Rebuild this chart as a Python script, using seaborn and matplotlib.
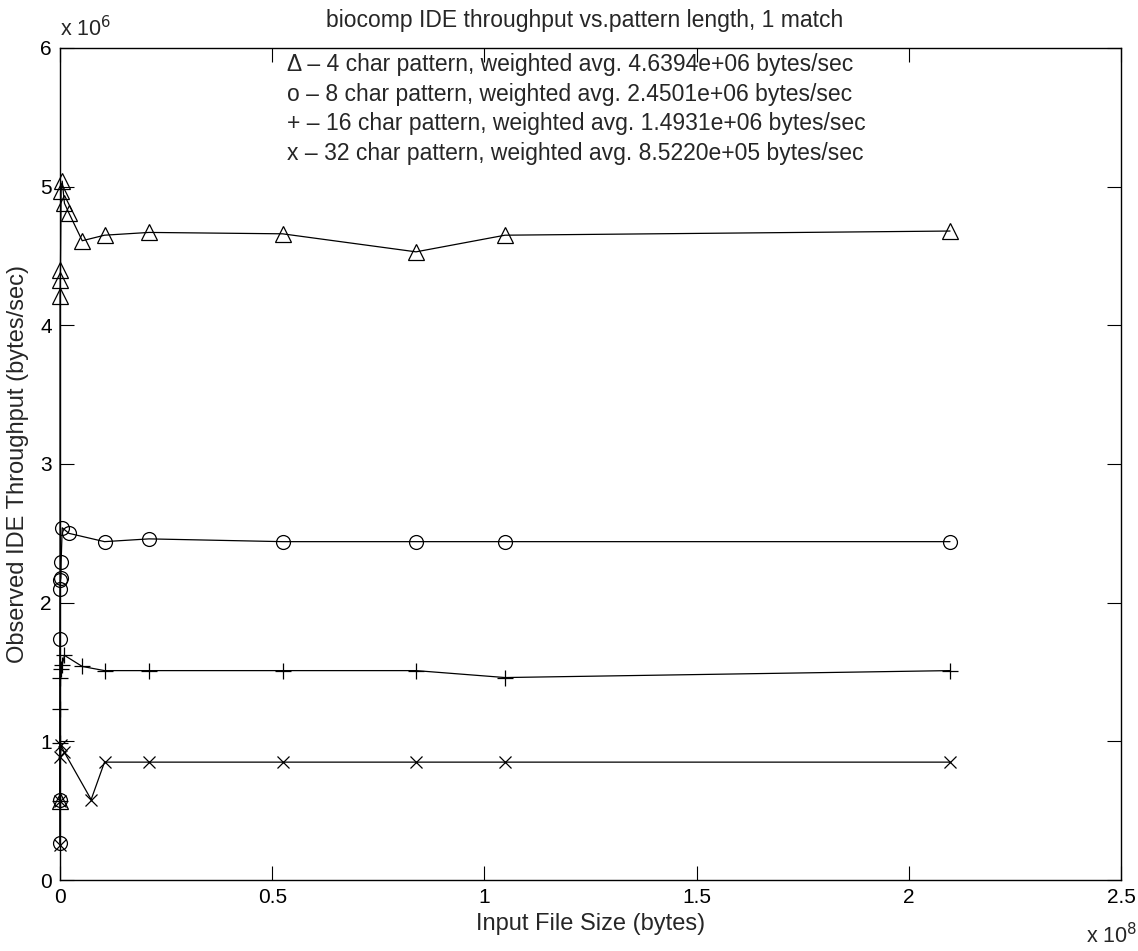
import numpy as np
import pandas as pd
import matplotlib
matplotlib.use("Agg")
import matplotlib.pyplot as plt
from matplotlib.ticker import FuncFormatter, MultipleLocator
import seaborn as sns

MIB = 1048576.0

# File sizes (MiB) and observed throughput (1e6 bytes/sec) per pattern length
tri_size = [0.001, 0.01, 0.05, 0.1, 0.25, 0.5, 1, 2, 5, 10, 20, 50, 80, 100, 200]
tri_rate = [0.57, 4.21, 4.33, 4.40, 4.97, 5.04, 4.88, 4.81, 4.61, 4.65, 4.67, 4.66, 4.53, 4.65, 4.68]

circ_size = [0.001, 0.005, 0.01, 0.05, 0.1, 0.2, 0.25, 0.5, 2, 10, 20, 50, 80, 100, 200]
circ_rate = [0.27, 0.58, 1.74, 2.10, 2.16, 2.18, 2.29, 2.54, 2.50, 2.44, 2.46, 2.44, 2.44, 2.44, 2.44]

plus_size = [0.001, 0.01, 0.05, 0.1, 0.25, 0.5, 1, 5, 10, 20, 50, 80, 100, 200]
plus_rate = [0.57, 0.99, 1.23, 1.46, 1.52, 1.55, 1.62, 1.54, 1.51, 1.51, 1.51, 1.51, 1.46, 1.51]

x_size = [0.001, 0.01, 0.1, 0.25, 1, 7, 10, 20, 50, 80, 100, 200]
x_rate = [0.25, 0.57, 0.89, 0.97, 0.92, 0.58, 0.85, 0.85, 0.85, 0.85, 0.85, 0.85]

legend_lines = [
    "\u0394 \u2013 4 char pattern, weighted avg. 4.6394e+06 bytes/sec",
    "o \u2013 8 char pattern, weighted avg. 2.4501e+06 bytes/sec",
    "+ \u2013 16 char pattern, weighted avg. 1.4931e+06 bytes/sec",
    "x \u2013 32 char pattern, weighted avg. 8.5220e+05 bytes/sec",
]

title_text = "biocomp IDE throughput vs.pattern length, 1 match"
xlabel_text = "Input File Size (bytes)"
ylabel_text = "Observed IDE Throughput (bytes/sec)"

sns.set_style("white")
plt.rcParams["font.family"] = ["Liberation Sans", "DejaVu Sans"]
plt.rcParams["axes.linewidth"] = 1.0

fig = plt.figure(figsize=(11.38, 9.51), dpi=100)
ax = fig.add_axes([60 / 1138, 1 - 880 / 951, (1121 - 60) / 1138, (880 - 48) / 951])

series = [
    (tri_size, tri_rate, "^", 11),
    (circ_size, circ_rate, "o", 10),
    (plus_size, plus_rate, "+", 11),
    (x_size, x_rate, "x", 8),
]
for sizes, rates, mk, ms in series:
    df = pd.DataFrame({"size": np.array(sizes) * MIB, "rate": np.array(rates) * 1e6})
    sns.lineplot(data=df, x="size", y="rate", ax=ax, sort=False, estimator=None,
                 color="black", linewidth=0.9, marker=mk, markersize=ms,
                 markerfacecolor="none", markeredgecolor="black", markeredgewidth=0.9,
                 clip_on=False, zorder=3)

ax.set_xlim(0, 2.5e8)
ax.set_ylim(0, 6e6)
ax.xaxis.set_major_locator(MultipleLocator(0.5e8))
ax.yaxis.set_major_locator(MultipleLocator(1e6))
ax.xaxis.set_major_formatter(FuncFormatter(lambda v, p: f"{v / 1e8:g}"))
ax.yaxis.set_major_formatter(FuncFormatter(lambda v, p: f"{v / 1e6:g}"))
ax.tick_params(direction="in", length=10, width=0.8, top=True, right=True,
               bottom=True, left=True, labelsize=15, colors="black", pad=6)
for s in ax.spines.values():
    s.set_color("black")
    s.set_visible(True)

ax.set_xlabel(xlabel_text, fontsize=17, labelpad=4)
ax.set_ylabel(ylabel_text, fontsize=17, labelpad=8)
fig.text(585 / 1138, 1 - 20 / 951, title_text, ha="center", va="center", fontsize=16.5)

fig.text(60 / 1138, 1 - 29 / 951, r"x 10$^{6}$", ha="left", va="center", fontsize=15.5)
fig.text(1086 / 1138, 1 - 936 / 951, r"x 10$^{8}$", ha="left", va="center", fontsize=15.5)

for i, line in enumerate(legend_lines):
    ax.text(0.214, 0.980 - i * 0.0355, line, transform=ax.transAxes,
            ha="left", va="center", fontsize=16.5)

fig.savefig("out.png", dpi=100, facecolor="white")
